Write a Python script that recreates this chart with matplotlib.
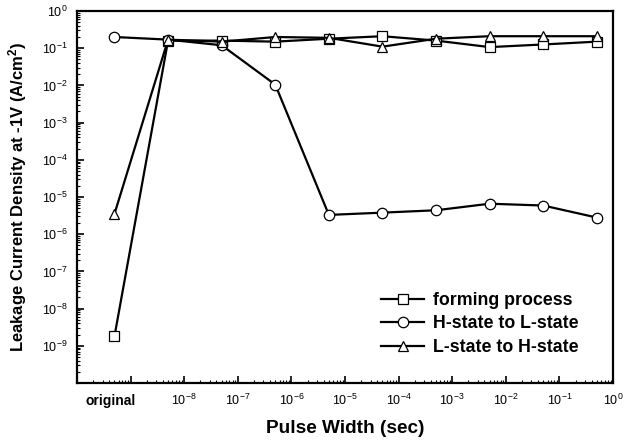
import matplotlib
matplotlib.use("Agg")
import matplotlib.pyplot as plt
import matplotlib.transforms as mtransforms
import numpy as np

plt.rcParams['font.family'] = ['Liberation Sans', 'DejaVu Sans']
plt.rcParams['mathtext.default'] = 'regular'

# pulse widths (sec); first point is the "original" state
pulse = [5e-10, 5e-9, 5e-8, 5e-7, 5e-6, 5e-5, 5e-4, 5e-3, 5e-2, 5e-1]
forming = [1.8e-9, 0.16, 0.16, 0.15, 0.18, 0.21, 0.16, 0.107, 0.126, 0.15]
h_to_l = [0.2, 0.17, 0.12, 0.0105, 3.3e-6, 3.8e-6, 4.4e-6, 6.6e-6, 5.9e-6, 2.8e-6]
l_to_h = [3.5e-6, 0.17, 0.15, 0.2, 0.19, 0.11, 0.18, 0.21, 0.21, 0.21]

x_ticks = [1e-10, 1e-9, 1e-8, 1e-7, 1e-6, 1e-5, 1e-4, 1e-3, 1e-2, 1e-1, 1e0]
x_labels = ['', '', r'$10^{-8}$', r'$10^{-7}$', r'$10^{-6}$', r'$10^{-5}$',
            r'$10^{-4}$', r'$10^{-3}$', r'$10^{-2}$', r'$10^{-1}$', r'$10^{0}$']
y_ticks = [1e-10, 1e-9, 1e-8, 1e-7, 1e-6, 1e-5, 1e-4, 1e-3, 1e-2, 1e-1, 1e0]
y_labels = ['', r'$10^{-9}$', r'$10^{-8}$', r'$10^{-7}$', r'$10^{-6}$', r'$10^{-5}$',
            r'$10^{-4}$', r'$10^{-3}$', r'$10^{-2}$', r'$10^{-1}$', r'$10^{0}$']

fig = plt.figure(figsize=(6.24, 4.42), dpi=100)
ax = fig.add_axes([77/624, 1 - 383/442, (613-77)/624, (383-11)/442])

style = dict(color='black', linewidth=1.6, markersize=7.5,
             markerfacecolor='white', markeredgecolor='black', markeredgewidth=0.9)
ax.plot(pulse, forming, marker='s', label='forming process', **style)
ax.plot(pulse, h_to_l, marker='o', label='H-state to L-state', **style)
ax.plot(pulse, l_to_h, marker='^', label='L-state to H-state', **style)

ax.set_xscale('log')
ax.set_yscale('log')
ax.set_xlim(1e-10, 1e0)
ax.set_ylim(1e-10, 1e0)
ax.set_xticks(x_ticks)
ax.set_xticklabels(x_labels, fontsize=9)
ax.set_yticks(y_ticks)
ax.set_yticklabels(y_labels, fontsize=9)
ax.xaxis.set_minor_locator(matplotlib.ticker.LogLocator(base=10, subs=np.arange(2, 10), numticks=20))
ax.yaxis.set_minor_locator(matplotlib.ticker.LogLocator(base=10, subs=np.arange(2, 10), numticks=20))
ax.xaxis.set_minor_formatter(matplotlib.ticker.NullFormatter())
ax.yaxis.set_minor_formatter(matplotlib.ticker.NullFormatter())
ax.tick_params(which='major', direction='in', length=5, width=1.2, top=False, right=False, pad=7)
ax.tick_params(which='minor', direction='in', length=2.5, width=0.8, top=False, right=False)
for s in ax.spines.values():
    s.set_linewidth(1.6)

trans = mtransforms.blended_transform_factory(ax.transData, ax.transAxes)
ax.text(4.2e-10, -0.03, 'original', transform=trans, ha='center', va='top',
        fontsize=10, fontweight='bold')

ax.set_xlabel('Pulse Width (sec)', fontsize=13.7, fontweight='bold', labelpad=9)
ax.set_ylabel('Leakage Current Density at -1V (A/cm$^{2}$)', fontsize=12,
              fontweight='bold', labelpad=9)

ax.legend(loc='lower right', frameon=False, handlelength=2.4,
          prop={'weight': 'bold', 'size': 12.8}, bbox_to_anchor=(0.962, 0.035),
          labelspacing=0.36, handletextpad=0.5, borderpad=0.3)

fig.savefig('out.png', dpi=100)
